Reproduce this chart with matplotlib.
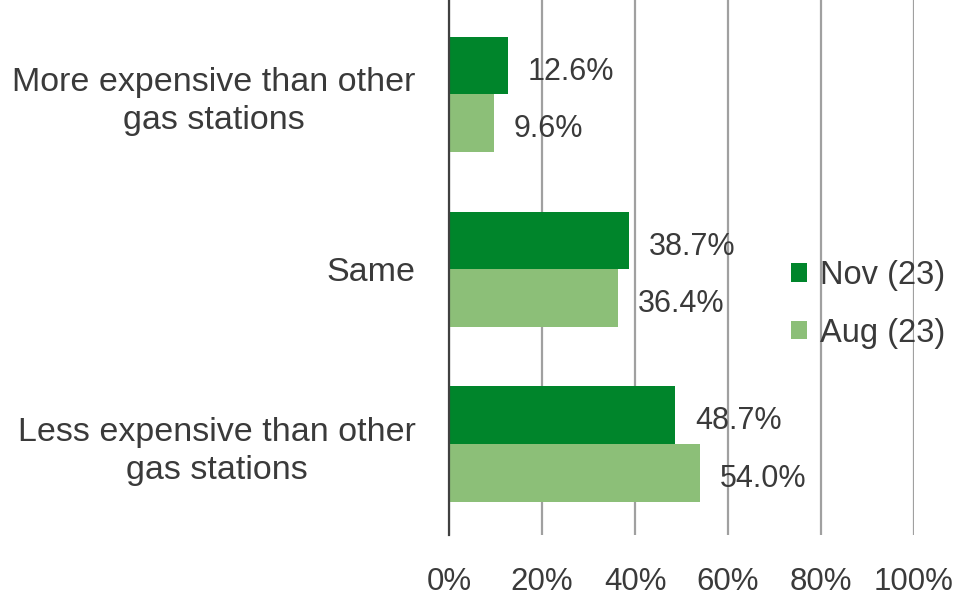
import matplotlib
matplotlib.use('Agg')
import matplotlib.pyplot as plt
import matplotlib.transforms as mtransforms
import numpy as np

# data
categories = ["More expensive than other\ngas stations", "Same",
              "Less expensive than other\ngas stations"]
nov_23 = [12.6, 38.7, 48.7]
aug_23 = [9.6, 36.4, 54.0]
series_names = ["Nov (23)", "Aug (23)"]
x_ticks = [0, 20, 40, 60, 80, 100]

dark_green = "#00852b"
light_green = "#8cbf78"
text_col = "#3a3a3a"

plt.rcParams['font.family'] = ['Liberation Sans', 'DejaVu Sans']

fig = plt.figure(figsize=(9.63, 5.98), dpi=100)
ax = fig.add_axes([0.4663, 0.1054, 0.4828, 0.8946])

y = np.arange(len(categories))
h = 0.33
b1 = ax.barh(y - h / 2, nov_23, height=h, color=dark_green, label=series_names[0], zorder=3)
b2 = ax.barh(y + h / 2, aug_23, height=h, color=light_green, label=series_names[1], zorder=3)

# value labels
for bars, vals in [(b1, nov_23), (b2, aug_23)]:
    for rect, v in zip(bars, vals):
        ax.text(v + 4.3, rect.get_y() + rect.get_height() / 2 + 0.035, f"{v:.1f}%",
                va="center", ha="left", fontsize=22, color=text_col, zorder=4)

ax.set_xlim(0, 100)
ax.set_ylim(2.52, -0.54)
ax.set_xticks(x_ticks)
ax.set_xticklabels([f"{t}%" for t in x_ticks], fontsize=22.5, color=text_col)
ax.set_yticks(y)
ax.set_yticklabels(categories, fontsize=24.5, color=text_col)
shift = mtransforms.ScaledTranslation(0, 4 / 100, fig.dpi_scale_trans)
for lbl in ax.get_yticklabels():
    lbl.set_multialignment("center")
    lbl.set_linespacing(1.3)
    if "\n" in lbl.get_text():
        lbl.set_transform(lbl.get_transform() + shift)
ax.tick_params(axis="both", length=0)
ax.tick_params(axis="y", pad=24)
ax.tick_params(axis="x", pad=23)

ax.grid(axis="x", color="#a0a0a0", linewidth=1.6, zorder=0)
for s in ["top", "right", "bottom"]:
    ax.spines[s].set_visible(False)
ax.spines["left"].set_color("#404040")
ax.spines["left"].set_linewidth(1.6)
ax.spines["left"].set_zorder(5)

fig.legend(loc="center left", bbox_to_anchor=(0.791, 0.491), frameon=False,
           fontsize=23.5, handlelength=0.5, handleheight=0.5, handletextpad=0.37,
           labelspacing=0.81, labelcolor=text_col)

plt.savefig("out.png", dpi=100)
plt.close()
